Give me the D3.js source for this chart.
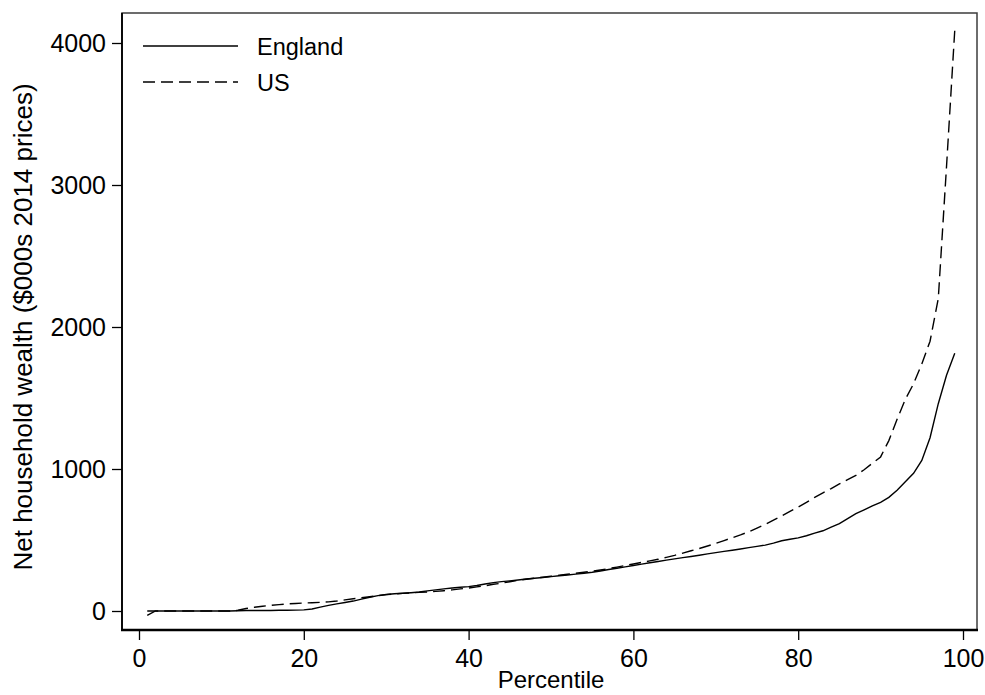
<!DOCTYPE html>
<html lang="en"><head>
<meta charset="utf-8">
<title>wealth percentiles</title>
<script type="text/javascript" src="https://cdn.jsdelivr.net/npm/d3@7/dist/d3.min.js"></script>
<style type="text/css">
  body { margin: 0; background: #fff; }
  svg { display: block; font-family: "Liberation Sans", Arial, sans-serif; }
  .tick text { font-size: 25px; fill: #000; }
</style>
</head>
<body>
<svg width="985" height="695"></svg>
<script type="text/javascript">

// percentiles 1..99
var percentiles = d3.range(1, 100);

var england = [0,0,0,0,0,0,0,0,0,0,
               0,2,3,3,4,4,5,5,6,8,
               14,27,40,50,60,70,84,97,108,116,
               121,125,129,134,142,149,156,162,167,172,
               180,190,200,207,212,218,225,231,236,242,
               248,254,260,266,273,282,292,301,311,320,
               330,340,349,358,367,376,384,393,402,411,
               420,428,437,446,455,464,478,495,505,515,
               530,548,565,590,615,650,685,712,740,765,
               800,850,910,970,1060,1220,1460,1660,1815];

var us = [-30,0,0,0,0,0,0,0,0,0,
          0,5,18,26,33,40,45,50,53,56,
          58,61,64,70,78,86,93,100,108,115,
          120,124,128,131,134,138,143,149,156,162,
          170,178,188,196,206,216,224,231,238,245,
          252,259,266,273,280,289,299,309,320,331,
          342,353,364,378,392,408,424,440,458,476,
          496,516,536,558,584,610,640,670,702,732,
          765,800,832,862,895,925,955,995,1040,1085,
          1200,1350,1490,1600,1740,1900,2200,3130,4090];

var xTicks = [0, 20, 40, 60, 80, 100];
var yTicks = [0, 1000, 2000, 3000, 4000];
var seriesNames = ["England", "US"];

var svg = d3.select("svg");

var x = d3.scaleLinear().domain([0, 100]).range([139, 963]);
var y = d3.scaleLinear().domain([0, 4000]).range([611, 43]);

// plot frame
svg.append("rect")
    .attr("x", 122).attr("y", 13)
    .attr("width", 855).attr("height", 617)
    .attr("fill", "none")
    .attr("stroke", "#3c3c3c")
    .attr("stroke-width", 1.5);

// axes
var yAxis = svg.append("g")
    .attr("transform", "translate(122,0)")
    .call(d3.axisLeft(y).tickValues(yTicks).tickSize(10).tickPadding(6).tickFormat(d3.format("d")));
yAxis.select(".domain").remove();
yAxis.selectAll(".tick line").attr("stroke", "#000").attr("stroke-width", 1.3);

var xAxis = svg.append("g")
    .attr("transform", "translate(0,630)")
    .call(d3.axisBottom(x).tickValues(xTicks).tickSize(10).tickPadding(9).tickFormat(d3.format("d")));
xAxis.select(".domain").remove();
xAxis.selectAll(".tick line").attr("stroke", "#000").attr("stroke-width", 1.3);

// heavier left & bottom axis lines
svg.append("line").attr("x1", 122).attr("x2", 122).attr("y1", 13).attr("y2", 631)
    .attr("stroke", "#000").attr("stroke-width", 1.8);
svg.append("line").attr("x1", 121).attr("x2", 978).attr("y1", 630).attr("y2", 630)
    .attr("stroke", "#000").attr("stroke-width", 2.6);

// axis titles
svg.append("text")
    .attr("x", 551).attr("y", 688)
    .attr("text-anchor", "middle")
    .style("font-size", "24px")
    .text("Percentile");

svg.append("text")
    .attr("transform", "translate(32,327) rotate(-90)")
    .attr("text-anchor", "middle")
    .style("font-size", "26px")
    .text("Net household wealth ($000s 2014 prices)");

// lines
var line = d3.line()
    .x(function(d) { return x(d[0]); })
    .y(function(d) { return y(d[1]); });

var dashes = ["none", "12,6"];

[england, us].forEach(function(vals, i) {
    svg.append("path")
        .datum(percentiles.map(function(p, j) { return [p, vals[j]]; }))
        .attr("fill", "none")
        .attr("stroke", "#000")
        .attr("stroke-width", 1.4)
        .attr("stroke-dasharray", dashes[i])
        .attr("d", line);
});

// legend
var legend = svg.selectAll("g.legend")
    .data(seriesNames)
    .enter().append("g")
    .attr("class", "legend")
    .attr("transform", function(d, i) { return "translate(0," + (46 + i * 36) + ")"; });

legend.append("line")
    .attr("x1", 143).attr("x2", 238)
    .attr("stroke", "#000")
    .attr("stroke-width", 1.4)
    .attr("stroke-dasharray", function(d, i) { return dashes[i]; });

legend.append("text")
    .attr("x", 257).attr("y", 8.5)
    .style("font-size", "23.5px")
    .text(function(d) { return d; });

</script>
</body>
</html>
